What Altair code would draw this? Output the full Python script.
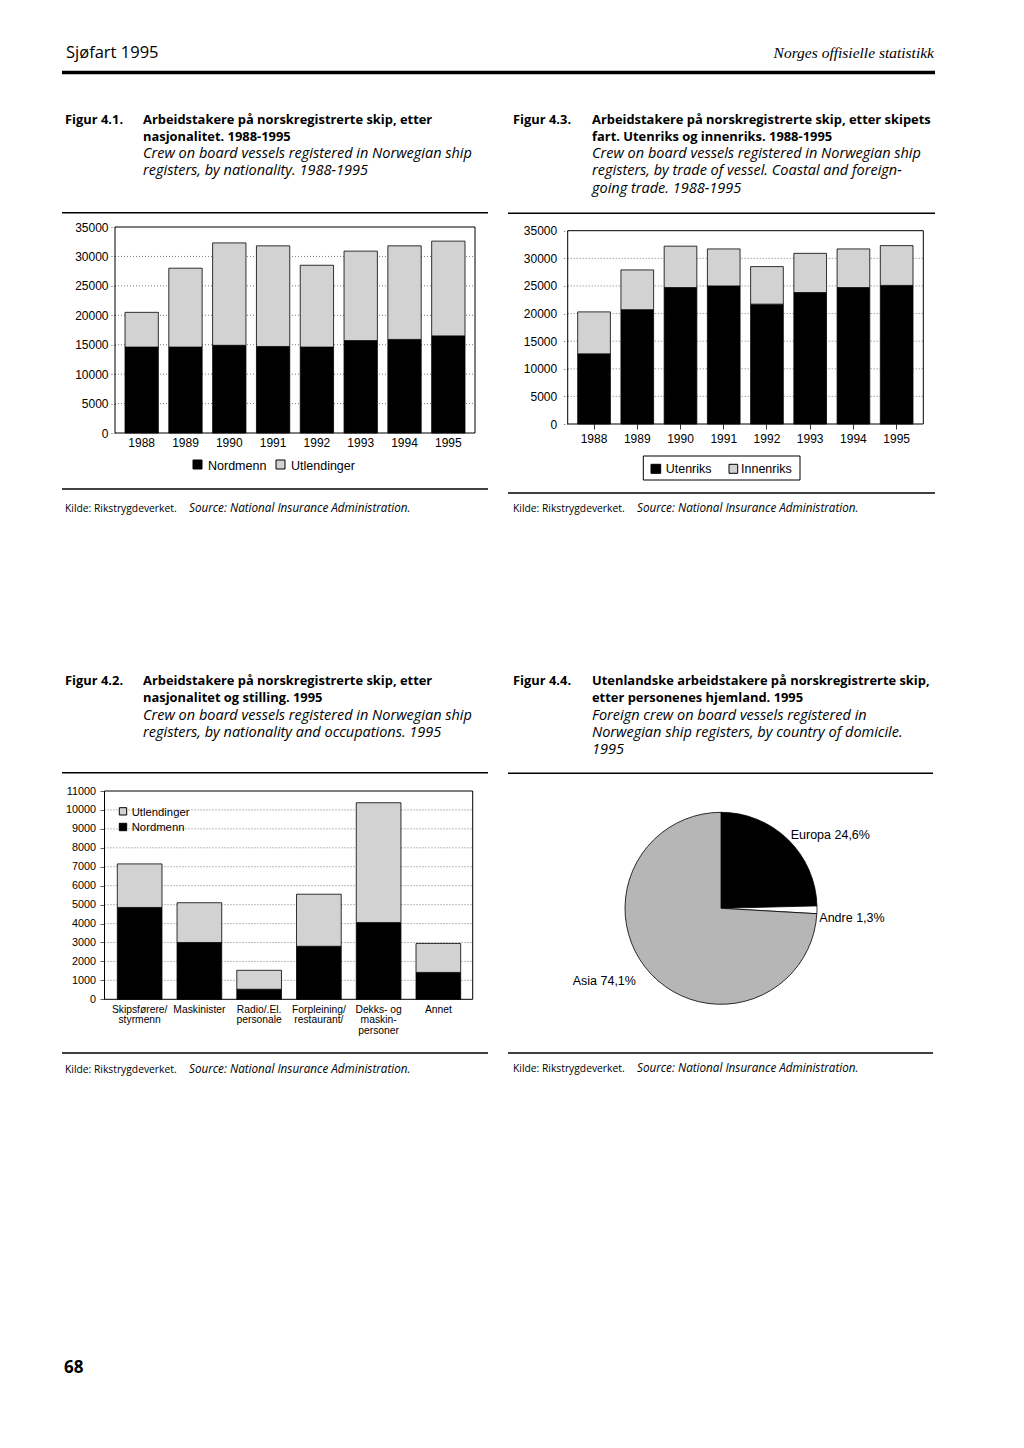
import altair as alt
import pandas as pd

# ---------------- data ----------------
years = ["1988", "1989", "1990", "1991", "1992", "1993", "1994", "1995"]
groups_41 = ["Nordmenn", "Utlendinger"]
nordmenn_41 = [14600, 14600, 14900, 14700, 14600, 15700, 15900, 16500]
utlendinger_41 = [5900, 13400, 17400, 17100, 13900, 15200, 15900, 16100]

groups_43 = ["Utenriks", "Innenriks"]
utenriks_43 = [12700, 20700, 24700, 25000, 21700, 23800, 24700, 25100]
innenriks_43 = [7600, 7200, 7500, 6700, 6800, 7100, 7000, 7200]

occupations = ["Skipsførere/|styrmenn", "Maskinister", "Radio/.El.|personale",
               "Forpleining/|restaurant/", "Dekks- og|maskin-|personer", "Annet"]
groups_42 = ["Utlendinger", "Nordmenn"]
nordmenn_42 = [4850, 3000, 530, 2800, 4050, 1420]
utlendinger_42 = [2300, 2100, 1000, 2750, 6330, 1530]

regions = ["Europa", "Andre", "Asia"]
region_pct = [24.6, 1.3, 74.1]
region_text = ["24,6%", "1,3%", "74,1%"]

ticks_35k = [0, 5000, 10000, 15000, 20000, 25000, 30000, 35000]
grid_35k = [5000, 10000, 15000, 20000, 25000, 30000]
ticks_11k = [0, 1000, 2000, 3000, 4000, 5000, 6000, 7000, 8000, 9000, 10000, 11000]
grid_11k = [1000, 2000, 3000, 4000, 5000, 6000, 7000, 8000, 9000, 10000]

header_left = "Sjøfart 1995"
header_right = "Norges offisielle statistikk"
page_no = "68"
kilde = "Kilde: Rikstrygdeverket."
source = "Source: National Insurance Administration."

t41_fig = "Figur 4.1."
t41_bold = ["Arbeidstakere på norskregistrerte skip, etter", "nasjonalitet. 1988-1995"]
t41_ital = ["Crew on board vessels registered in Norwegian ship", "registers, by nationality. 1988-1995"]
t43_fig = "Figur 4.3."
t43_bold = ["Arbeidstakere på norskregistrerte skip, etter skipets", "fart. Utenriks og innenriks. 1988-1995"]
t43_ital = ["Crew on board vessels registered in Norwegian ship", "registers, by trade of vessel. Coastal and foreign-",
            "going trade. 1988-1995"]
t42_fig = "Figur 4.2."
t42_bold = ["Arbeidstakere på norskregistrerte skip, etter", "nasjonalitet og stilling. 1995"]
t42_ital = ["Crew on board vessels registered in Norwegian ship", "registers, by nationality and occupations. 1995"]
t44_fig = "Figur 4.4."
t44_bold = ["Utenlandske arbeidstakere på norskregistrerte skip,", "etter personenes hjemland. 1995"]
t44_ital = ["Foreign crew on board vessels registered in", "Norwegian ship registers, by country of domicile.", "1995"]

# ---------------- styles ----------------
H = 1448
TFONT = "Open Sans"
CFONT = "Liberation Sans"
BLACK = "#000000"
STIPPLE = "#d2d2d2"
HATCH = "#b6b6b6"
GRIDC = "#5a5a5a"
LH = 17.3


def one_row():
    return pd.DataFrame({"k": [0]})


def hrule(x1, x2, y, w=1.4):
    return alt.Chart(one_row()).mark_rule(color=BLACK, strokeWidth=w).encode(
        x=alt.value(x1), x2=alt.value(x2), y=alt.value(y))


def box(x1, x2, y1, y2, fill="transparent", w=1.0):
    return alt.Chart(one_row()).mark_rect(fill=fill, stroke=BLACK, strokeWidth=w).encode(
        x=alt.value(x1), x2=alt.value(x2), y=alt.value(y1), y2=alt.value(y2))


def text(s, x, y, size, font=TFONT, weight="normal", style="normal", align="left", lh=LH):
    return alt.Chart(pd.DataFrame({"t": [s]})).mark_text(
        align=align, baseline="alphabetic", font=font, fontSize=size, fontWeight=weight,
        fontStyle=style, lineBreak="\n", lineHeight=lh, color=BLACK).encode(
        x=alt.value(x), y=alt.value(y), text="t:N")


def title_block(fig, bold, ital, xf, xt, y0):
    out = [text(fig, xf, y0, 12.9, weight="bold"),
           text("\n".join(bold), xt, y0, 12.9, weight="bold")]
    out.append(text("\n".join(ital), xt, y0 + LH * len(bold), 14.5, style="italic"))
    return out


def kilde_line(x, y):
    return [text(kilde, x, y, 10.3), text(source, x + 124, y, 11.7, style="italic")]


def stacked(cats, g0, v0, g1, v1, xr, pin, yr, ydom, grid, frame, ylab, xlab):
    x1, x2, ytop, ybot = frame
    df = pd.DataFrame({"cat": cats * 2, "group": [g0] * len(cats) + [g1] * len(cats),
                       "value": v0 + v1, "ord": [0] * len(cats) + [1] * len(cats)})
    ys = alt.Scale(domain=ydom, range=yr, nice=False, zero=True)
    xs = alt.Scale(domain=cats, range=xr, paddingInner=pin, paddingOuter=0)
    gl = alt.Chart(pd.DataFrame({"v": grid})).mark_rule(
        color=GRIDC, strokeWidth=0.8, strokeDash=[1, 2]).encode(
        y=alt.Y("v:Q", scale=ys, axis=None), x=alt.value(x1), x2=alt.value(x2))
    bars = alt.Chart(df).mark_bar(stroke=BLACK, strokeWidth=0.8).encode(
        x=alt.X("cat:N", sort=cats, scale=xs, axis=xlab),
        y=alt.Y("value:Q", stack="zero", scale=ys, axis=ylab),
        color=alt.Color("group:N", scale=alt.Scale(domain=[g0, g1], range=[BLACK, STIPPLE]), legend=None),
        order=alt.Order("ord:Q"))
    return [gl, bars, box(x1, x2, ytop, ybot)]


def yaxis(x, values, size, tick, pad, dash=None):
    kw = dict(orient="left", offset=-x, values=values, tickSize=tick, labelPadding=pad, domain=False,
              grid=False, labelFont=CFONT, labelFontSize=size, labelColor=BLACK, tickColor="#333333",
              tickWidth=0.8, title=None, format="d", labelOverlap=False, labelFlush=False)
    if dash:
        kw["tickDash"] = dash
    return alt.Axis(**kw)


def xaxis(ybottom, size, ticks, tick, pad, **extra):
    return alt.Axis(orient="bottom", offset=ybottom - H, ticks=ticks, tickSize=tick, labelPadding=pad,
                    domain=False, grid=False, labelFont=CFONT, labelFontSize=size, labelColor=BLACK,
                    tickColor=BLACK, tickWidth=0.8, labelAngle=0, title=None, labelOverlap=False, **extra)


layers = []

# header
layers += [text(header_left, 66, 57.5, 16.5),
           text(header_right, 934, 57.5, 15.5, font="Liberation Serif", style="italic", align="right"),
           hrule(62, 935, 72.5, 3.6)]

# -------- Figure 4.1 --------
layers += title_block(t41_fig, t41_bold, t41_ital, 65, 143, 123.5)
layers += [hrule(62, 488, 212.7), hrule(62, 488, 489)]
layers += stacked(years, groups_41[0], nordmenn_41, groups_41[1], utlendinger_41,
                  [125, 465], 0.239, [433, 227], [0, 35000], grid_35k,
                  (115, 475, 227, 433),
                  yaxis(115, ticks_35k, 12, 4, 3, [1, 2]),
                  xaxis(433, 12, False, 0, 4))
layers += [box(193, 202, 460, 469, fill=BLACK), text(groups_41[0], 208, 469.5, 12.5, font=CFONT),
           box(276, 285, 460, 469, fill=STIPPLE), text(groups_41[1], 291, 469.5, 12.5, font=CFONT)]
layers += kilde_line(65, 512)

# -------- Figure 4.3 --------
layers += title_block(t43_fig, t43_bold, t43_ital, 513, 592, 123.5)
layers += [hrule(508, 935, 213.3), hrule(508, 935, 493)]
layers += stacked(years, groups_43[0], utenriks_43, groups_43[1], innenriks_43,
                  [577.7, 913], 0.244, [424, 230.7], [0, 35000], grid_35k,
                  (567.7, 923.3, 230.7, 424),
                  yaxis(567.7, ticks_35k, 12, 5, 6, [1, 2]),
                  xaxis(424, 12, True, 5, 4))
layers += [box(643.3, 800, 456, 480),
           box(651, 660.7, 464.3, 473.3, fill=BLACK), text(groups_43[0], 665.7, 473, 12.5, font=CFONT),
           box(729, 737.7, 464.3, 473.3, fill=STIPPLE), text(groups_43[1], 741, 473, 12.5, font=CFONT)]
layers += kilde_line(513, 512)

# -------- Figure 4.2 --------
layers += title_block(t42_fig, t42_bold, t42_ital, 65, 143, 685)
layers += [hrule(62, 488, 772.7), hrule(62, 488, 1053)]
layers += stacked(occupations, groups_42[1], nordmenn_42, groups_42[0], utlendinger_42,
                  [117.3, 460.7], 0.252, [999.3, 791], [0, 11000], grid_11k,
                  (104.5, 472.7, 791, 999.3),
                  yaxis(104.5, ticks_11k, 10.8, 4.5, 4.5),
                  xaxis(999.3, 10.3, False, 0, 5, labelExpr="split(datum.label, '|')",
                        labelLineHeight=10.7, labelBaseline="top"))
layers += [box(119.3, 126.7, 807.7, 815, fill=STIPPLE), text(groups_42[0], 131.7, 815.5, 11.3, font=CFONT),
           box(119.3, 126.7, 823.3, 830.7, fill=BLACK), text(groups_42[1], 131.7, 831, 11.3, font=CFONT)]
layers += kilde_line(65, 1073)

# -------- Figure 4.4 --------
layers += title_block(t44_fig, t44_bold, t44_ital, 513, 592, 685)
layers += [hrule(508, 933, 773.3), hrule(508, 933, 1053)]
pie_df = pd.DataFrame({"region": regions, "pct": region_pct, "ord": [0, 1, 2],
                       "label": [f"{r}   {p}" for r, p in zip(regions, region_text)]})
pie = alt.Chart(pie_df).mark_arc(radius=96, stroke=BLACK, strokeWidth=0.8).encode(
    theta=alt.Theta("pct:Q", stack=True),
    color=alt.Color("region:N", scale=alt.Scale(domain=regions, range=[BLACK, "#ffffff", HATCH]), legend=None),
    order=alt.Order("ord:Q"),
    x=alt.value(721), y=alt.value(908.3))
layers.append(pie)
label_pos = {"Europa": (790.7, 838.5), "Andre": (819.3, 921.5), "Asia": (572.7, 985)}
for r in regions:
    lx, ly = label_pos[r]
    layers.append(alt.Chart(pie_df).transform_filter(alt.datum.region == r).mark_text(
        align="left", baseline="alphabetic", font=CFONT, fontSize=12.5, color=BLACK).encode(
        x=alt.value(lx), y=alt.value(ly), text="label:N"))
layers += kilde_line(513, 1072)

# page number
layers.append(text(page_no, 64, 1373, 17, weight="bold"))

chart = alt.layer(*layers).resolve_scale(
    x="independent", y="independent", color="independent", theta="independent"
).properties(
    width=1024, height=H, autosize=alt.AutoSizeParams(type="none"), padding=0,
    background="white"
).configure_view(strokeWidth=0)

chart.save("out.html", embed_options={"renderer": "svg", "actions": False})
